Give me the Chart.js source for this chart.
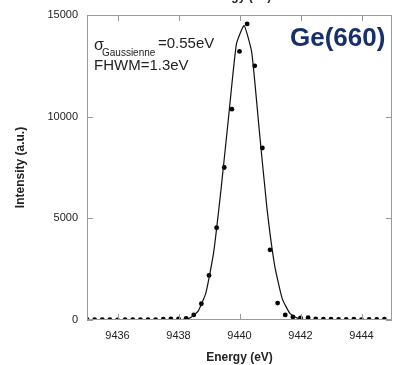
<!DOCTYPE html>
<html>
<head>
<meta charset="utf-8">
<script src="https://cdn.jsdelivr.net/npm/chart.js@4.4.1/dist/chart.umd.min.js"></script>
<style>
    html, body { margin: 0; padding: 0; background: #fff; }
    #wrap { position: relative; width: 393px; height: 365px; }
</style>
</head>
<body>
<div id="wrap"><canvas id="grafico" width="393" height="365"></canvas></div>
<script>
// Points mesurés (eV, a.u.)
const energiePoints = [
    9435.00, 9435.25, 9435.50, 9435.75, 9436.00, 9436.25, 9436.50, 9436.75,
    9437.00, 9437.25, 9437.50, 9437.75, 9438.00, 9438.25, 9438.50, 9438.75,
    9439.00, 9439.25, 9439.50, 9439.75, 9440.00, 9440.25, 9440.50, 9440.75,
    9441.00, 9441.25, 9441.50, 9441.75, 9442.00, 9442.25, 9442.50, 9442.75,
    9443.00, 9443.25, 9443.50, 9443.75, 9444.00, 9444.25, 9444.50, 9444.75
];
const intensitePoints = [
    30, 20, 20, 20, 0, 20, 20, 20,
    20, 20, 40, 50, 60, 80, 250, 800,
    2190, 4540, 7500, 10370, 13210, 14560, 12500, 8460,
    3450, 830, 250, 150, 100, 110, 50, 40,
    40, 30, 30, 40, 20, 30, 30, 40
];

// Ajustement gaussien
const energieFit = [
    9435.00, 9438.15, 9438.40, 9438.65, 9438.90, 9439.15, 9439.40, 9439.65,
    9439.90, 9440.15, 9440.40, 9440.65, 9440.90, 9441.15, 9441.40, 9441.65,
    9441.90, 9442.15, 9445.00
];
const intensiteFit = [
    0, 0, 120, 450, 1350, 3300, 6500, 10100,
    13580, 14480, 13170, 9300, 5500, 2700, 1050, 330,
    90, 20, 0
];

// Graduations
const ticksX = [9436, 9438, 9440, 9442, 9444];
const ticksY = [0, 5000, 10000, 15000];

const police = '"Liberation Sans", Arial, sans-serif';
const couleurCadre = '#9a9a9a';

// Cadre, graduations intérieures et annotations
const pluginCadre = {
    id: 'cadre',
    afterDraw(chart) {
        const { ctx, chartArea: a, scales } = chart;
        ctx.save();
        ctx.strokeStyle = couleurCadre;
        ctx.lineWidth = 1;
        ctx.strokeRect(a.left + 0.5, a.top + 0.5, a.right - a.left - 1, a.bottom - a.top - 1);

        ctx.beginPath();
        ticksX.forEach(v => {
            const x = Math.round(scales.x.getPixelForValue(v)) + 0.5;
            ctx.moveTo(x, a.bottom); ctx.lineTo(x, a.bottom - 6);
            ctx.moveTo(x, a.top); ctx.lineTo(x, a.top + 6);
        });
        ticksY.forEach(v => {
            const y = Math.round(scales.y.getPixelForValue(v)) + 0.5;
            ctx.moveTo(a.left, y); ctx.lineTo(a.left + 6, y);
            ctx.moveTo(a.right, y); ctx.lineTo(a.right - 6, y);
        });
        ctx.stroke();

        // titre coupé en haut
        ctx.fillStyle = '#222';
        ctx.textAlign = 'center';
        ctx.textBaseline = 'alphabetic';
        ctx.font = 'bold 12px ' + police;
        ctx.fillText('Energy (eV)', 238, 0);

        // sigma et largeur
        ctx.textAlign = 'left';
        ctx.font = '16px ' + police;
        ctx.fillText('\u03c3', 94, 50);
        ctx.font = '10px ' + police;
        ctx.fillText('Gaussienne', 102, 56);
        ctx.font = '15px ' + police;
        ctx.fillText('=0.55eV', 158, 48);
        ctx.fillText('FHWM=1.3eV', 94, 70);

        ctx.fillStyle = '#17306c';
        ctx.font = 'bold 26px ' + police;
        ctx.fillText('Ge(660)', 290, 46);
        ctx.restore();
    }
};

const ctx = document.getElementById('grafico').getContext('2d');

const grafico = new Chart(ctx, {
    type: 'scatter',
    data: {
        datasets: [
            {
                label: 'fit',
                type: 'line',
                data: energieFit.map((e, i) => ({ x: e, y: intensiteFit[i] })),
                borderColor: '#111',
                borderWidth: 1.2,
                pointRadius: 0,
                tension: 0.15,
                fill: false
            },
            {
                label: 'mesure',
                data: energiePoints.map((e, i) => ({ x: e, y: intensitePoints[i] })),
                backgroundColor: '#000',
                borderColor: '#000',
                pointRadius: 2.4,
                borderWidth: 0
            }
        ]
    },
    options: {
        responsive: false,
        animation: false,
        layout: {
            autoPadding: false,
            padding: { left: 0, top: 15, right: 1, bottom: 0 }
        },
        plugins: {
            legend: { display: false },
            tooltip: { enabled: false }
        },
        scales: {
            x: {
                type: 'linear',
                min: 9435,
                max: 9445,
                afterBuildTicks: scale => { scale.ticks = ticksX.map(v => ({ value: v })); },
                afterFit: scale => {
                    scale.height = 45;
                    scale.paddingLeft = 0;
                    scale.paddingRight = 0;
                },
                grid: { display: false, drawTicks: false },
                border: { display: false },
                ticks: {
                    padding: 9,
                    color: '#222',
                    font: { family: police, size: 11 },
                    callback: v => String(v)
                },
                title: {
                    display: true,
                    text: 'Energy (eV)',
                    color: '#222',
                    font: { family: police, size: 12, weight: 'bold' },
                    padding: { top: 2, bottom: 0 }
                }
            },
            y: {
                min: 0,
                max: 15000,
                afterBuildTicks: scale => { scale.ticks = ticksY.map(v => ({ value: v })); },
                afterFit: scale => {
                    scale.width = 87;
                    scale.paddingTop = 0;
                    scale.paddingBottom = 0;
                },
                grid: { display: false, drawTicks: false },
                border: { display: false },
                ticks: {
                    padding: 9,
                    color: '#222',
                    font: { family: police, size: 11 },
                    callback: v => String(v)
                },
                title: {
                    display: true,
                    text: 'Intensity (a.u.)',
                    color: '#222',
                    font: { family: police, size: 12, weight: 'bold' },
                    padding: { top: 13, bottom: 0 }
                }
            }
        }
    },
    plugins: [pluginCadre]
});
</script>
</body>
</html>
